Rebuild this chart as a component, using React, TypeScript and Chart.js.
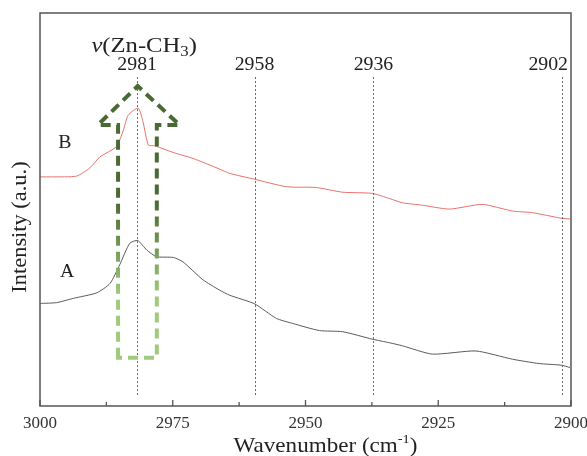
import React, { useEffect, useRef } from "react";
import { Chart, registerables } from "chart.js";

Chart.register(...registerables);

// ---- data ----
const waveB = [3000, 2997.6, 2993.1, 2990.6, 2988.7, 2985.6, 2984.3, 2983.4, 2981.5, 2980.6, 2979.6, 2978.4, 2974.9, 2971.2, 2966.2, 2964.3, 2959.6, 2953.6, 2948.0, 2943.0, 2937.4, 2934.2, 2931.7, 2928.0, 2922.9, 2916.7, 2911.0, 2907.3, 2901.9, 2900.2];
const intensityB = [58.3, 58.3, 58.5, 60.6, 63.4, 66.0, 70.2, 74.0, 75.8, 72.3, 66.4, 66.2, 64.5, 63.0, 60.3, 59.2, 57.7, 55.8, 55.6, 54.4, 54.1, 52.8, 51.7, 51.1, 50.1, 51.3, 49.6, 49.2, 47.8, 47.6];

const waveA = [3000, 2996.9, 2993.7, 2989.3, 2986.8, 2985.0, 2983.1, 2981.6, 2979.9, 2978.1, 2974.9, 2973.1, 2969.3, 2966.2, 2964.3, 2959.6, 2955.5, 2952.4, 2947.4, 2943.0, 2937.4, 2934.2, 2931.7, 2926.1, 2917.9, 2911.0, 2906.0, 2901.9, 2900.2];
const intensityA = [26.1, 26.3, 27.4, 28.8, 31.2, 35.9, 41.4, 42.1, 39.7, 38.0, 37.8, 36.7, 32.1, 29.5, 28.2, 26.0, 22.3, 21.0, 19.2, 18.9, 17.0, 16.1, 15.3, 13.2, 14.0, 11.9, 10.8, 10.4, 9.8];

const majorTicks = [3000, 2975, 2950, 2925, 2900];
const minorTicks = [2987.5, 2962.5, 2937.5, 2912.5];

const peakLinePositions = [2981.7, 2959.6, 2937.2, 2901.7];
const peakLabels = ["2981", "2958", "2936", "2902"];
const peakLineRange = [2.8, 83.7];

const seriesLabels = ["B", "A"];
const seriesLabelAt = [
  [2995.3, 67.4],
  [2994.9, 34.6],
];

// arrow outline (wavenumber, intensity)
const arrowApex = [2981.6, 81.4];
const arrowWings = [2989.1, 2973.7, 71.5];
const arrowShaft = [2985.3, 2978.0, 12.3];

const SERIF = '"Liberation Serif", "DejaVu Serif", serif';

function drawText(
  ctx: CanvasRenderingContext2D,
  s: string,
  x: number,
  y: number,
  font: string,
  align: "left" | "center" | "right",
  k: number
): number {
  ctx.font = font;
  const w = ctx.measureText(s).width * k;
  const left = align === "center" ? x - w / 2 : align === "right" ? x - w : x;
  ctx.save();
  ctx.translate(left, y);
  ctx.scale(k, 1);
  ctx.textAlign = "left";
  ctx.fillText(s, 0, 0);
  ctx.restore();
  return w;
}

function measure(ctx: CanvasRenderingContext2D, s: string, font: string, k: number) {
  ctx.font = font;
  return ctx.measureText(s).width * k;
}

const annotPlugin = {
  id: "annot",
  afterDatasetsDraw(chart: any) {
    const { ctx, chartArea: ca, scales } = chart;
    const x = scales.x;
    const y = scales.y;
    const px = (v: number) => x.getPixelForValue(v);
    const py = (v: number) => y.getPixelForValue(v);
    ctx.save();

    // dotted peak lines
    ctx.strokeStyle = "#666";
    ctx.lineWidth = 1;
    ctx.setLineDash([2, 2]);
    peakLinePositions.forEach((p) => {
      const xx = Math.round(px(p)) + 0.5;
      ctx.beginPath();
      ctx.moveTo(xx, py(peakLineRange[1]));
      ctx.lineTo(xx, py(peakLineRange[0]));
      ctx.stroke();
    });

    // arrow
    const yTop = py(arrowApex[1]);
    const yBot = py(arrowShaft[2]);
    const grad = ctx.createLinearGradient(0, py(52), 0, py(28));
    grad.addColorStop(0, "#4a6a33");
    grad.addColorStop(1, "#9fca7e");
    ctx.strokeStyle = grad;
    ctx.lineWidth = 4;
    ctx.setLineDash([10, 6]);
    ctx.beginPath();
    ctx.moveTo(px(arrowShaft[0]), yBot);
    ctx.lineTo(px(arrowShaft[0]), py(arrowWings[2]));
    ctx.lineTo(px(arrowWings[0]), py(arrowWings[2]));
    ctx.lineTo(px(arrowApex[0]), yTop);
    ctx.lineTo(px(arrowWings[1]), py(arrowWings[2]));
    ctx.lineTo(px(arrowShaft[1]), py(arrowWings[2]));
    ctx.lineTo(px(arrowShaft[1]), yBot);
    ctx.closePath();
    ctx.stroke();
    ctx.setLineDash([]);

    // frame
    ctx.strokeStyle = "#555";
    ctx.lineWidth = 1.5;
    ctx.strokeRect(ca.left, ca.top, ca.right - ca.left, ca.bottom - ca.top);

    // inward ticks
    ctx.lineWidth = 1.3;
    majorTicks.forEach((t) => {
      const xx = px(t);
      ctx.beginPath();
      ctx.moveTo(xx, ca.bottom);
      ctx.lineTo(xx, ca.bottom - 6);
      ctx.stroke();
    });
    minorTicks.forEach((t) => {
      const xx = px(t);
      ctx.beginPath();
      ctx.moveTo(xx, ca.bottom);
      ctx.lineTo(xx, ca.bottom - 4);
      ctx.stroke();
    });

    ctx.textBaseline = "alphabetic";

    // tick labels
    ctx.fillStyle = "#333";
    majorTicks.forEach((t) => {
      drawText(ctx, String(t), px(t), ca.bottom + 22, "17px " + SERIF, "center", 1);
    });

    ctx.fillStyle = "#222";
    // peak labels
    const pf = "18px " + SERIF;
    const pk = 1.1;
    peakLabels.forEach((lab, i) => {
      let cx = px(peakLinePositions[i]);
      const w = measure(ctx, lab, pf, pk);
      if (cx + w / 2 > ca.right - 3) cx = ca.right - 3 - w / 2;
      drawText(ctx, lab, cx, 70, pf, "center", pk);
    });

    // series labels
    seriesLabels.forEach((lab, i) => {
      drawText(ctx, lab, px(seriesLabelAt[i][0]), py(seriesLabelAt[i][1]) + 7, "18px " + SERIF, "center", 1.1);
    });

    // v(Zn-CH3)
    const k = 1.12;
    const fBig = "22px " + SERIF;
    const fIt = "italic 22px " + SERIF;
    const fSub = "15px " + SERIF;
    const wV = measure(ctx, "v", fIt, k);
    const wMain = measure(ctx, "(Zn-CH", fBig, k);
    const wSub = measure(ctx, "3", fSub, k);
    const wClose = measure(ctx, ")", fBig, k);
    const total = wV + wMain + wSub + wClose;
    let sx = px(peakLinePositions[0]) + 7 - total / 2;
    const base = 52;
    sx += drawText(ctx, "v", sx, base, fIt, "left", k);
    sx += drawText(ctx, "(Zn-CH", sx, base, fBig, "left", k);
    sx += drawText(ctx, "3", sx, base + 4, fSub, "left", k);
    drawText(ctx, ")", sx, base, fBig, "left", k);

    // y title
    ctx.save();
    ctx.translate(26, 227);
    ctx.rotate(-Math.PI / 2);
    drawText(ctx, "Intensity (a.u.)", 0, 0, "20px " + SERIF, "center", 1.12);
    ctx.restore();

    // x title
    const kx = 1.1;
    const fT = "21px " + SERIF;
    const fS = "13px " + SERIF;
    const w1 = measure(ctx, "Wavenumber (cm", fT, kx);
    const w2 = measure(ctx, "-1", fS, kx);
    const w3 = measure(ctx, ")", fT, kx);
    let tx = (ca.left + ca.right) / 2 + 20 - (w1 + w2 + w3) / 2;
    tx += drawText(ctx, "Wavenumber (cm", tx, 452, fT, "left", kx);
    tx += drawText(ctx, "-1", tx, 443, fS, "left", kx);
    drawText(ctx, ")", tx, 452, fT, "left", kx);

    ctx.restore();
  },
};

export default function App() {
  const ref = useRef<HTMLCanvasElement>(null);
  useEffect(() => {
    if (!ref.current) return;
    const chart = new Chart(ref.current, {
      type: "line",
      data: {
        datasets: [
          {
            label: "B",
            data: waveB.map((w, i) => ({ x: w, y: intensityB[i] })),
            borderColor: "#e8716b",
            borderWidth: 1,
            pointRadius: 0,
            tension: 0.2,
          },
          {
            label: "A",
            data: waveA.map((w, i) => ({ x: w, y: intensityA[i] })),
            borderColor: "#5a5a5a",
            borderWidth: 1,
            pointRadius: 0,
            tension: 0.2,
          },
        ],
      },
      options: {
        responsive: false,
        animation: false,
        layout: { padding: { left: 40, right: 16, top: 13, bottom: 50 } },
        plugins: { legend: { display: false }, tooltip: { enabled: false } },
        scales: {
          x: {
            type: "linear",
            display: false,
            reverse: true,
            min: 2900,
            max: 3000,
          },
          y: {
            display: false,
            min: 0,
            max: 100,
          },
        },
      },
      plugins: [annotPlugin],
    });
    return () => chart.destroy();
  }, []);
  return (
    <div style={{ position: "absolute", left: 0, top: 0, width: 587, height: 456, background: "#fff" }}>
      <canvas ref={ref} width={587} height={456} style={{ display: "block" }} />
    </div>
  );
}
